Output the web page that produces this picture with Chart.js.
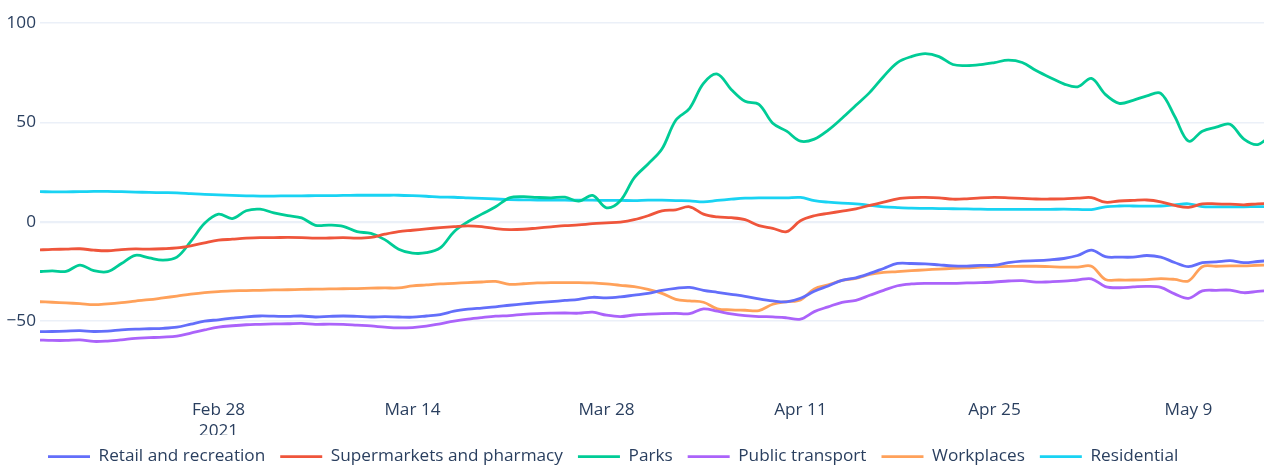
<!DOCTYPE html>
<html>
<head>
<meta charset="utf-8">
<script src="https://cdn.jsdelivr.net/npm/chart.js@4.4.1/dist/chart.umd.min.js"></script>
<style>
  html, body { margin: 0; padding: 0; background: #fff; }
  #wrap { width: 1264px; height: 466px; }
</style>
</head>
<body>
<div id="wrap"><canvas id="myChart" width="1264" height="466"></canvas></div>
<script>
/*
 * DATA
 */
	var startDate = '2021-02-15';
	var tickDays = [13, 27, 41, 55, 69, 83];
	var tickLabels = ['Feb 28', 'Mar 14', 'Mar 28', 'Apr 11', 'Apr 25', 'May 9'];
	var yTicks = [-50, 0, 50, 100];

	var retail = [
		-55.3, -55.2, -55.0, -54.8, -55.2, -55.0, -54.4, -54.0, -53.8, -53.6, -53.0, -51.5, -50.0, -49.3, -48.5,
		-47.8, -47.4, -47.5, -47.6, -47.4, -47.9, -47.6, -47.4, -47.6, -47.9, -47.7, -47.9, -48.0, -47.4, -46.7,
		-45.0, -44.0, -43.4, -42.8, -42.0, -41.3, -40.7, -40.2, -39.6, -39.0, -38.0, -38.3, -37.8, -36.9, -36.0,
		-34.5, -33.5, -33.0, -34.5, -35.5, -36.5, -37.5, -38.8, -39.8, -40.3, -38.5, -35.0, -32.3, -29.5,
		-28.2, -26.0, -23.5, -21.0, -21.0, -21.2, -21.7, -22.2, -22.3, -22.0, -21.9, -20.6, -19.8, -19.6, -19.2,
		-18.5, -17.0, -14.3, -17.6, -17.8, -17.8, -17.0, -17.8, -20.5, -22.6, -20.6, -20.2, -19.6, -20.6, -20.0,
		-19.5
	];
	var supermarkets = [
		-14.2, -13.9, -13.8, -13.6, -14.3, -14.6, -14.0, -13.7, -13.8, -13.6, -13.2, -12.1, -10.6, -9.3, -8.8,
		-8.3, -8.0, -8.0, -7.9, -8.0, -8.3, -8.2, -8.0, -8.3, -7.9, -6.3, -5.0, -4.3, -3.6, -3.0,
		-2.5, -2.1, -2.5, -3.5, -4.0, -3.8, -3.2, -2.6, -2.0, -1.6, -1.0, -0.6, -0.2, 1.0, 3.0,
		5.5, 6.0, 7.5, 3.8, 2.4, 2.0, 1.0, -2.0, -3.3, -5.0, 0.5, 3.0, 4.2, 5.3,
		6.5, 8.2, 9.8, 11.5, 12.1, 12.2, 12.0, 11.3, 11.5, 12.0, 12.2, 12.0, 11.7, 11.4, 11.4,
		11.5, 11.8, 12.1, 9.8, 10.4, 10.7, 10.9, 10.0, 8.2, 7.2, 9.0, 9.0, 8.8, 8.5, 9.0,
		9.2
	];
	var parks = [
		-25.1, -24.7, -25.0, -21.8, -24.6, -25.1, -21.0, -16.9, -18.2, -19.3, -17.8, -9.9, -0.8, 3.8, 1.6,
		5.5, 6.3, 4.4, 3.0, 1.9, -1.8, -1.7, -2.3, -5.0, -5.9, -9.0, -13.8, -15.8, -15.6, -13.2,
		-5.0, 0.0, 3.8, 7.5, 12.0, 12.6, 12.2, 12.0, 12.3, 10.3, 13.2, 7.0, 10.5, 22.0, 29.0,
		36.5, 51.0, 57.0, 69.5, 74.2, 66.5, 60.5, 59.0, 49.5, 45.5, 40.5, 41.5, 46.0, 52.0,
		58.5, 65.0, 73.0, 80.0, 83.0, 84.5, 83.0, 79.0, 78.5, 79.0, 80.0, 81.2, 80.0, 76.0, 72.5,
		69.3, 67.8, 72.0, 64.0, 59.5, 61.0, 63.3, 64.5, 53.0, 40.5, 45.5, 47.5, 49.0, 41.5, 38.8,
		44.0
	];
	var transport = [
		-59.5, -59.7, -59.7, -59.4, -60.2, -60.0, -59.4, -58.6, -58.3, -58.0, -57.5, -56.0, -54.4, -53.0, -52.3,
		-51.8, -51.6, -51.4, -51.3, -51.1, -51.6, -51.5, -51.6, -52.0, -52.4, -53.0, -53.4, -53.2, -52.5, -51.3,
		-50.0, -49.0, -48.2, -47.5, -47.2, -46.6, -46.2, -46.0, -45.9, -46.0, -45.5, -47.0, -47.7, -46.9, -46.5,
		-46.2, -46.1, -46.2, -43.8, -45.0, -46.3, -47.2, -47.7, -47.8, -48.3, -49.0, -45.2, -42.8, -40.5,
		-39.5, -37.0, -34.5, -32.2, -31.3, -31.0, -31.0, -31.0, -30.8, -30.6, -30.3, -29.8, -29.6, -30.4, -30.2,
		-29.9, -29.3, -28.7, -32.6, -33.2, -32.8, -32.5, -33.0, -36.3, -38.5, -34.8, -34.5, -34.4, -35.7, -35.0,
		-34.5
	];
	var workplaces = [
		-40.2, -40.5, -40.8, -41.2, -41.7, -41.3, -40.7, -39.9, -39.2, -38.3, -37.4, -36.4, -35.6, -35.1, -34.8,
		-34.6, -34.5, -34.3, -34.2, -34.0, -33.9, -33.8, -33.7, -33.6, -33.4, -33.3, -33.3, -32.3, -31.8, -31.3,
		-31.0, -30.6, -30.3, -30.0, -31.5, -31.2, -30.8, -30.6, -30.6, -30.6, -30.8, -31.3, -32.0, -32.6, -34.0,
		-36.0, -39.0, -39.8, -40.5, -43.8, -44.3, -44.5, -44.7, -41.5, -40.2, -39.3, -33.8, -31.8, -29.5,
		-28.5, -26.5, -25.5, -25.1, -24.6, -24.2, -23.8, -23.5, -23.2, -22.8, -22.6, -22.5, -22.4, -22.4, -22.6,
		-22.8, -22.8, -22.4, -29.0, -29.3, -29.3, -29.1, -28.6, -29.0, -29.8, -22.6, -22.4, -22.2, -22.2, -21.9,
		-21.8
	];
	var residential = [
		15.1, 15.0, 15.0, 15.1, 15.2, 15.2, 15.1, 14.9, 14.7, 14.6, 14.5, 14.1, 13.7, 13.5, 13.2,
		13.0, 12.9, 12.9, 13.0, 13.0, 13.1, 13.1, 13.2, 13.3, 13.3, 13.3, 13.3, 13.1, 12.8, 12.4,
		12.3, 12.0, 11.7, 11.4, 11.1, 11.0, 10.9, 10.9, 10.8, 10.8, 10.8, 10.7, 10.7, 10.6, 10.8,
		10.8, 10.6, 10.5, 10.0, 10.7, 11.3, 11.8, 12.0, 12.0, 12.0, 12.2, 10.6, 9.8, 9.3,
		9.0, 8.2, 7.5, 7.1, 6.8, 6.7, 6.6, 6.5, 6.4, 6.3, 6.2, 6.2, 6.2, 6.2, 6.2,
		6.3, 6.2, 6.1, 7.5, 7.9, 7.9, 7.8, 7.9, 8.5, 9.0, 7.6, 7.5, 7.5, 7.5, 7.6,
		7.6
	];

	var seriesNames = ['Retail and recreation', 'Supermarkets and pharmacy', 'Parks',
		'Public transport', 'Workplaces', 'Residential'];
	var seriesValues = [retail, supermarkets, parks, transport, workplaces, residential];
	var seriesColors = ['#636efa', '#ef553b', '#00cc96', '#ab63fa', '#ffa15a', '#19d3f3'];

	// one label per day, starting at startDate
	var dates = [];
	var d0 = new Date(startDate + 'T00:00:00Z');
	for (var i = 0; i < retail.length; i++) {
		dates.push(new Date(d0.getTime() + i * 86400000).toISOString().slice(0, 10));
	}

/*
 * CHART
 */
	var FONT = "'Open Sans', 'Noto Sans', sans-serif";
	var FONT_SIZE = 17.2;
	var TEXT = '#2a3f5f';
	var GRID = '#ebf0f8';

	Chart.defaults.font.family = FONT;
	Chart.defaults.font.size = FONT_SIZE;
	Chart.defaults.color = TEXT;

	/* move the legend under the plot, left aligned like the original */
	var legendShift = {
		id: 'legendShift',
		afterLayout: function(chart) {
			chart.legend.left = 33;
			chart.legend.top = 433;
		}
	};

	var datasets = seriesNames.map(function(name, k) {
		return {
			label: name,
			data: seriesValues[k].map(function(v, i) { return {x: i, y: v}; }),
			borderColor: seriesColors[k],
			backgroundColor: seriesColors[k],
			borderWidth: 2.8,
			pointRadius: 0,
			pointHoverRadius: 0,
			tension: 0.35,
			fill: false
		};
	});

	var myChart = new Chart(document.getElementById('myChart'), {
		type: 'line',
		data: { labels: dates, datasets: datasets },
		plugins: [legendShift],
		options: {
			responsive: false,
			animation: false,
			events: [],
			layout: { padding: { top: 16, left: 0, right: 0, bottom: 0 }, autoPadding: false },
			plugins: {
				tooltip: { enabled: false },
				legend: {
					position: 'bottom',
					align: 'start',
					maxHeight: 31,
					labels: {
						usePointStyle: true,
						pointStyle: 'line',
						pointStyleWidth: 42,
						padding: 15,
						color: TEXT,
						font: { family: FONT, size: FONT_SIZE }
					}
				}
			},
			scales: {
				x: {
					type: 'linear',
					min: 0.12,
					max: 88.45,
					grid: { display: false, drawTicks: false },
					border: { display: false },
					// plot bottom at y = 390; the axis box ends where the legend starts
					afterFit: function(s) { s.height = 466 - 390 - s.chart.legend.height; },
					afterBuildTicks: function(s) {
						s.ticks = tickDays.map(function(v) { return {value: v}; });
					},
					ticks: {
						autoSkip: false,
						maxRotation: 0,
						padding: 10,
						color: TEXT,
						callback: function(value, index) {
							return index === 0 ? [tickLabels[0], dates[value].slice(0, 4)] : tickLabels[index];
						}
					}
				},
				y: {
					min: -84.6,
					max: 103.4,
					grid: {
						color: GRID,
						drawTicks: false,
						lineWidth: function(ctx) { return ctx.tick && ctx.tick.value === 0 ? 2.2 : 1.4; }
					},
					border: { display: false },
					afterFit: function(s) { s.width = 40; },
					afterBuildTicks: function(s) {
						s.ticks = yTicks.map(function(v) { return {value: v}; });
					},
					ticks: {
						padding: 4,
						color: TEXT,
						callback: function(value) {
							return value < 0 ? '\u2212' + Math.abs(value) : String(value);
						}
					}
				}
			}
		}
	});
</script>
</body>
</html>
